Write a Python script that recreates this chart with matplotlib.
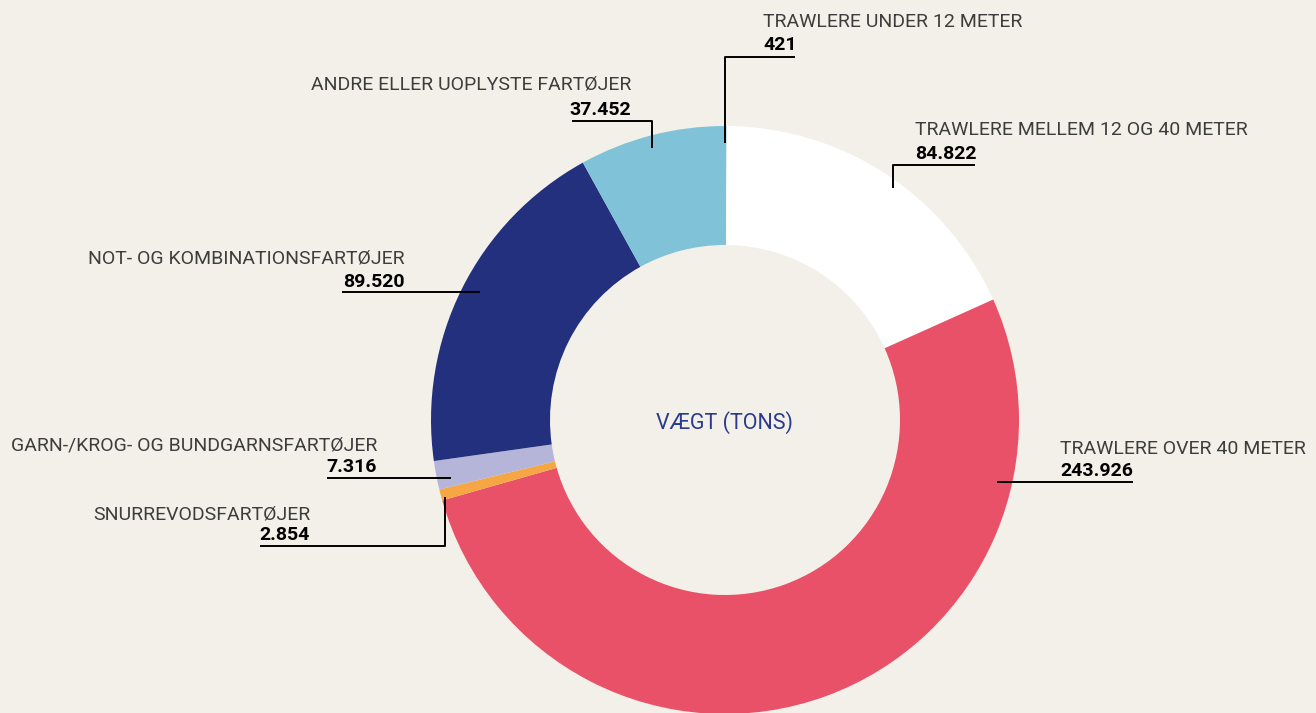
import matplotlib
matplotlib.use("Agg")
import matplotlib.pyplot as plt

# Data
categories = [
    "TRAWLERE UNDER 12 METER",
    "TRAWLERE MELLEM 12 OG 40 METER",
    "TRAWLERE OVER 40 METER",
    "SNURREVODSFARTØJER",
    "GARN-/KROG- OG BUNDGARNSFARTØJER",
    "NOT- OG KOMBINATIONSFARTØJER",
    "ANDRE ELLER UOPLYSTE FARTØJER",
]
values = [421, 84822, 243926, 2854, 7316, 89520, 37452]
value_labels = ["421", "84.822", "243.926", "2.854", "7.316", "89.520", "37.452"]
colors = ["#7FC2D9", "#FFFFFF", "#E95168", "#F6A743", "#B4B5D9", "#22307D", "#80C2D8"]
center_label = "VÆGT (TONS)"

W, H = 1316, 713
BG = "#F2F0E8"
fig = plt.figure(figsize=(W / 100, H / 100), dpi=100, facecolor=BG)
ax = fig.add_axes([0, 0, 1, 1])
ax.set_facecolor(BG)

cx, cy = 725, H - 420
R_out, R_in = 294, 175
ax.pie(values, colors=colors, startangle=90, counterclock=False,
       radius=R_out, center=(cx, cy),
       wedgeprops=dict(width=R_out - R_in, linewidth=0))
ax.set_xlim(0, W)
ax.set_ylim(0, H)
ax.set_aspect("auto")
ax.axis("off")

FONT = "Roboto"
LBL_COLOR = "#3d3d3d"
FS = 14

def Y(py):
    return H - py

def line(pts):
    xs = [p[0] for p in pts]
    ys = [Y(p[1]) for p in pts]
    ax.plot(xs, ys, color="black", lw=1.4, solid_capstyle="butt", zorder=5)

def label(i, x, y_name, y_val, ha):
    ax.text(x, Y(y_name), categories[i], fontsize=FS, fontfamily=FONT, fontweight="normal",
            color=LBL_COLOR, ha=ha, va="center")
    ax.text(x, Y(y_val), value_labels[i], fontsize=FS, fontfamily=FONT, fontweight="bold",
            color="black", ha=ha, va="center")

# annotations (layout positions)
line([(725, 143), (725, 57), (795, 57)])
label(0, 763, 22, 45, "left")

line([(893, 188), (893, 165), (975, 165)])
label(1, 915, 130, 154, "left")

line([(997, 482), (1133, 482)])
label(2, 1060, 449, 471, "left")

line([(445, 497), (445, 546), (260, 546)])
label(3, 310, 515, 535, "right")

line([(451, 478), (327, 478)])
label(4, 377, 445, 467, "right")

line([(480, 292), (342, 292)])
label(5, 405, 258, 282, "right")

line([(652, 148), (652, 121), (572, 121)])
label(6, 631, 84, 110, "right")

ax.text(cx, Y(423), center_label, fontsize=15.5, fontfamily=FONT, fontweight="normal",
        color="#2B3A8C", ha="center", va="center")

fig.savefig("out.png", dpi=100, facecolor=BG)
